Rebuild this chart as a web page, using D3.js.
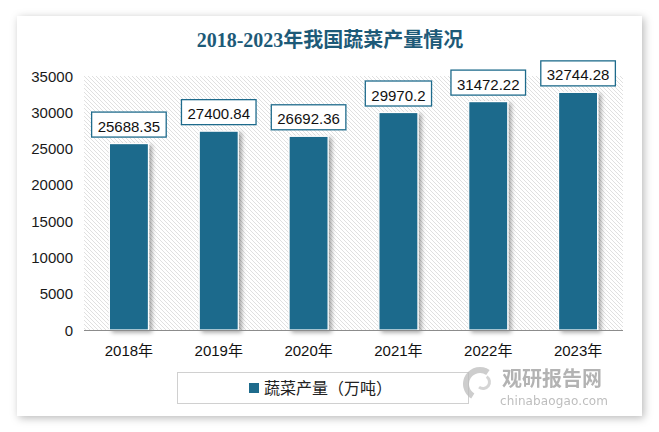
<!DOCTYPE html>
<html><head><meta charset="utf-8">
<script src="https://cdn.jsdelivr.net/npm/d3@7/dist/d3.min.js"></script>
<style>html,body{margin:0;padding:0;background:#fff;}svg{display:block;}</style>
</head><body>
<script>
const categories = ["2018年","2019年","2020年","2021年","2022年","2023年"];
const values = [25688.35, 27400.84, 26692.36, 29970.2, 31472.22, 32744.28];
const valueLabels = ["25688.35","27400.84","26692.36","29970.2","31472.22","32744.28"];
const yTicks = [0,5000,10000,15000,20000,25000,30000,35000];
const titleText = "2018-2023年我国蔬菜产量情况";
const legendText = "蔬菜产量（万吨）";

const W = 659, H = 432;
const svg = d3.select("body").append("svg").attr("width", W).attr("height", H);
const defs = svg.append("defs");

const cardF = defs.append("filter").attr("id","cardShadow").attr("x","-10%").attr("y","-10%").attr("width","120%").attr("height","120%");
cardF.append("feDropShadow").attr("dx",2).attr("dy",2).attr("stdDeviation",4).attr("flood-color","#000").attr("flood-opacity",0.28);

const barF = defs.append("filter").attr("id","barShadow").attr("x","-30%").attr("y","-10%").attr("width","160%").attr("height","130%");
barF.append("feDropShadow").attr("dx",3).attr("dy",2).attr("stdDeviation",2).attr("flood-color","#000").attr("flood-opacity",0.35);

const pat = defs.append("pattern").attr("id","hatch").attr("patternUnits","userSpaceOnUse")
  .attr("width",4).attr("height",4);
pat.append("rect").attr("width",4).attr("height",4).attr("fill","#fff");
pat.append("path").attr("d","M-1,-1 L5,5 M-1,3 L1,5 M3,-1 L5,1").attr("stroke","#dcdcdc").attr("stroke-width",0.9);

// card
svg.append("rect").attr("x",17).attr("y",16).attr("width",625).attr("height",400)
  .attr("fill","#fff").attr("filter","url(#cardShadow)");

// title
svg.append("text").attr("x",330).attr("y",47).attr("text-anchor","middle")
  .attr("font-family","'Liberation Serif','Noto Sans CJK SC',serif").attr("font-size",20)
  .attr("font-weight","bold").attr("fill","#1d5a78").text(titleText);

const x = d3.scaleBand().domain(categories).range([84,623]).paddingInner(0.565).paddingOuter(0.2825);
const y = d3.scaleLinear().domain([0,35000]).range([330,76]);

// plot background
svg.append("rect").attr("x",84).attr("y",y(35000)).attr("width",539).attr("height",y(0)-y(35000)).attr("fill","url(#hatch)");

// y axis labels
const yAxis = d3.axisLeft(y).tickValues(yTicks).tickSize(0).tickPadding(0).tickFormat(d3.format("d"));
const yg = svg.append("g").attr("transform","translate(73,0)").call(yAxis);
yg.select(".domain").remove();
yg.selectAll("text").attr("font-family","'Liberation Sans',Arial,sans-serif").attr("font-size",15).attr("fill","#1a1a1a").attr("dy","0.34em");

// bars
svg.append("g").selectAll("rect").data(values).join("rect")
  .attr("x",(d,i)=>x(categories[i])).attr("width",x.bandwidth())
  .attr("y",d=>y(d)).attr("height",d=>y(0)-y(d))
  .attr("fill","#1e6b8c").attr("stroke","#fff").attr("stroke-width",1.2)
  .attr("filter","url(#barShadow)");

// baseline
svg.append("line").attr("x1",84).attr("x2",623).attr("y1",330.5).attr("y2",330.5).attr("stroke","#8c8c8c").attr("stroke-width",1);

// x axis labels
const xAxis = d3.axisBottom(x).tickSize(0).tickPadding(0);
const xg = svg.append("g").attr("transform","translate(0,330)").call(xAxis);
xg.select(".domain").remove();
xg.selectAll("text").attr("font-family","'Liberation Sans','Noto Sans CJK SC',sans-serif").attr("font-size",15)
  .attr("fill","#111").attr("dy",null).attr("y",26);

// value label boxes
const lg = svg.append("g");
values.forEach((v,i)=>{
  const cx = x(categories[i]) + x.bandwidth()/2;
  const g = lg.append("g");
  const t = g.append("text").attr("x",cx).attr("y",y(v)-12).attr("text-anchor","middle")
    .attr("font-family","'Liberation Sans',Arial,sans-serif").attr("font-size",15).attr("fill","#111").text(valueLabels[i]);
  const bb = t.node().getBBox();
  const bw = bb.width + 12, bh = 25;
  g.insert("rect","text").attr("x",cx - bw/2).attr("y",y(v)-6.5-bh).attr("width",bw).attr("height",bh)
    .attr("fill","#fff").attr("stroke","#1e6b8c").attr("stroke-width",1.3);
});

// legend
svg.append("rect").attr("x",177.5).attr("y",372.5).attr("width",291).attr("height",31)
  .attr("fill","#fff").attr("stroke","#d0d0d0").attr("stroke-width",1);
svg.append("rect").attr("x",249).attr("y",383).attr("width",10).attr("height",10).attr("fill","#1e6b8c");
svg.append("text").attr("x",264).attr("y",394).attr("font-family","'Noto Sans CJK SC',sans-serif")
  .attr("font-size",16).attr("fill","#222").text(legendText);

// watermark
const wm = svg.append("g").attr("opacity",0.75);
wm.append("path").attr("d", d3.arc()({innerRadius:11,outerRadius:17,startAngle:-2.6,endAngle:0.6}))
  .attr("transform","translate(480,384)").attr("fill","#bdbdbd");
wm.append("path").attr("d", d3.arc()({innerRadius:5,outerRadius:8,startAngle:0.6,endAngle:3.8}))
  .attr("transform","translate(483,382)").attr("fill","#c8c8c8");
wm.append("text").attr("x",502).attr("y",386).attr("font-family","'Noto Sans CJK SC',sans-serif")
  .attr("font-weight","bold").attr("font-size",20).attr("fill","#9a9a9a").text("观研报告网");
wm.append("text").attr("x",500).attr("y",405).attr("font-family","'DejaVu Sans',sans-serif")
  .attr("font-size",12).attr("fill","#a8a8a8").attr("textLength",108).text("chinabaogao.com");
</script>
</body></html>
